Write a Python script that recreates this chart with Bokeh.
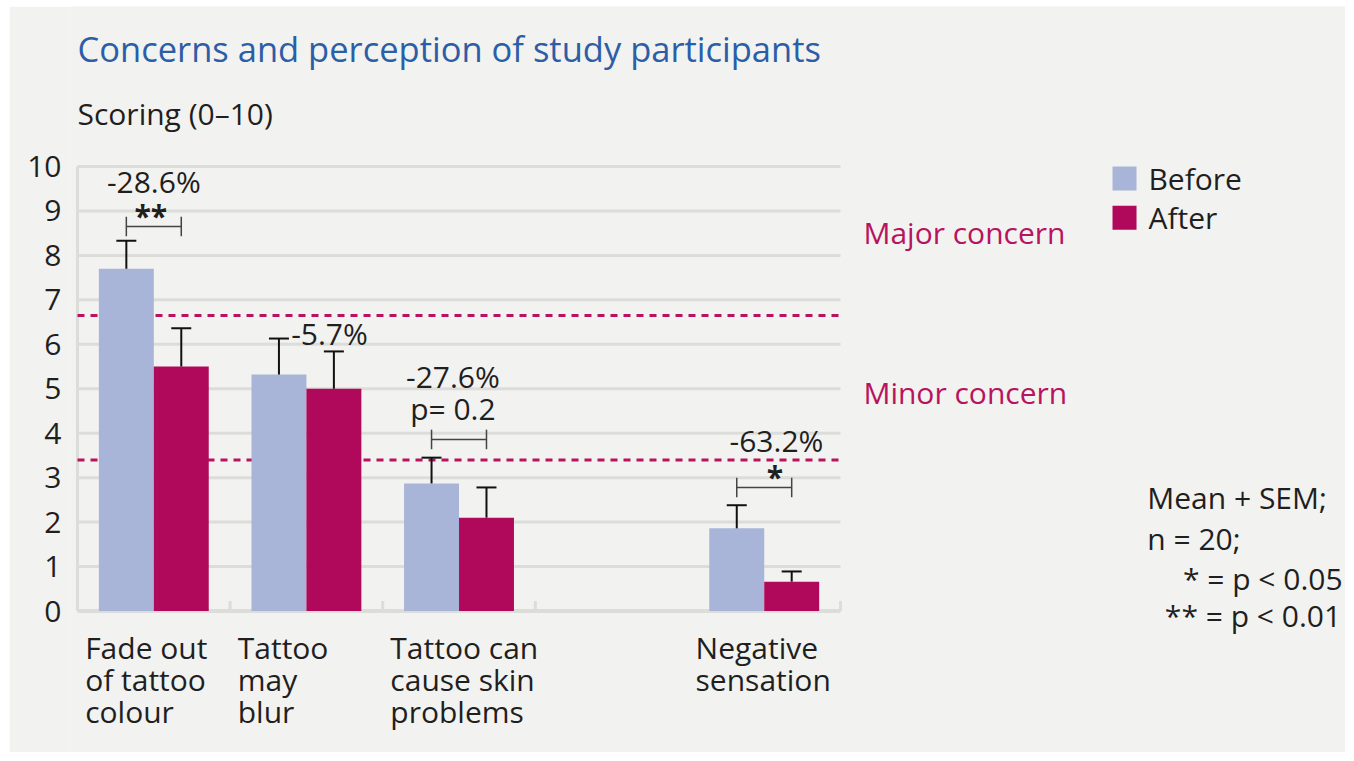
from bokeh.plotting import figure
from bokeh.models import Range1d, FixedTicker, Label
from bokeh.embed import file_html
from bokeh.resources import INLINE

# ---------------- data ----------------
categories = ["Fade out\nof tattoo\ncolour", "Tattoo\nmay\nblur",
              "Tattoo can\ncause skin\nproblems", "Negative\nsensation"]
cat_slot = [0, 1, 2, 4]          # slot 3 is left empty in the original
before_mean = [7.70, 5.32, 2.87, 1.86]
before_sem = [0.63, 0.81, 0.58, 0.52]
after_mean = [5.50, 5.00, 2.10, 0.66]
after_sem = [0.86, 0.84, 0.68, 0.23]
change_labels = ["-28.6%", "-5.7%", "-27.6%", "-63.2%"]
sig_labels = ["**", "", "p= 0.2", "*"]
series_names = ["Before", "After"]
major_concern = 6.65
minor_concern = 3.4
y_ticks = list(range(0, 11))
slot_edges = [0.5, 1.5, 2.5, 4.5]

# ---------------- style ----------------
FONT = "Open Sans"
BG = "#f2f2f0"
GRID = "#dcdcd8"
C_BEFORE = "#a9b5d8"
C_AFTER = "#b0085a"
C_CONCERN = "#b8135f"
C_TITLE = "#2b5ea7"
TXT = "#1f1f1f"
FS = "30px"
BW = 0.36
X0, X1 = -0.5, 4.5   # plotting area of the bar chart

# frame covers the whole panel so that annotations outside the bar area are not clipped
p = figure(width=1336, height=746, x_range=Range1d(-0.5459, 7.809), y_range=Range1d(-3.183, 13.60),
           output_backend="svg", toolbar_location=None, title=None, x_axis_location=None,
           min_border_left=61, min_border_right=0, min_border_top=0, min_border_bottom=0,
           background_fill_color=BG, border_fill_color=BG, outline_line_color=None)
p.margin = (6, 9, 9, 9)
p.grid.visible = False

ya = p.yaxis[0]
ya.bounds = (0, 10)
ya.ticker = FixedTicker(ticks=y_ticks)
ya.axis_line_color = None
ya.major_tick_line_color = None
ya.major_tick_out = 0
ya.major_tick_in = 0
ya.minor_tick_line_color = None
ya.major_label_text_font = FONT
ya.major_label_text_font_size = FS
ya.major_label_text_color = TXT
ya.major_label_standoff = 9

# y axis line, horizontal grid lines and baseline
gy = y_ticks[1:]
p.segment(x0=[X0], y0=[0], x1=[X0], y1=[10], line_color=GRID, line_width=3)
p.segment(x0=[X0] * len(gy), y0=gy, x1=[X1] * len(gy), y1=gy, line_color=GRID, line_width=3)
p.segment(x0=[X0], y0=[0], x1=[X1], y1=[0], line_color=GRID, line_width=4)
# category separator ticks (pointing up from the baseline)
p.segment(x0=slot_edges, y0=[0] * len(slot_edges), x1=slot_edges, y1=[0.225] * len(slot_edges),
          line_color=GRID, line_width=3)

# concern thresholds
for loc in (major_concern, minor_concern):
    p.segment(x0=[X0], y0=[loc], x1=[X1], y1=[loc], line_color=C_CONCERN,
              line_dash="7 6", line_width=3)

xb = [c - BW / 2 for c in cat_slot]
xa_ = [c + BW / 2 for c in cat_slot]

p.vbar(x=xb, top=before_mean, width=BW, bottom=0, fill_color=C_BEFORE, line_color=None)
p.vbar(x=xa_, top=after_mean, width=BW, bottom=0, fill_color=C_AFTER, line_color=None)

# error bars (mean + SEM)
for xs, m, s in ((xb, before_mean, before_sem), (xa_, after_mean, after_sem)):
    up = [a + b for a, b in zip(m, s)]
    p.segment(x0=xs, y0=m, x1=xs, y1=up, line_color="#111111", line_width=2)
    p.dash(x=xs, y=up, size=20, line_color="#111111", line_width=2)


def label(x, y, text, size=FS, color=TXT, align="left", baseline="middle", style="normal", lh=1.2):
    p.add_layout(Label(x=x, y=y, text=text, text_font=FONT, text_font_size=size,
                       text_color=color, text_align=align, text_baseline=baseline,
                       text_font_style=style, text_line_height=lh))


# significance brackets
bracket_y = {0: 8.65, 2: 3.86, 3: 2.78}
for i, by in bracket_y.items():
    p.segment(x0=[xb[i]], y0=[by], x1=[xa_[i]], y1=[by], line_color="#444444", line_width=1.5)
    p.segment(x0=[xb[i], xa_[i]], y0=[by - 0.22, by - 0.22], x1=[xb[i], xa_[i]],
              y1=[by + 0.22, by + 0.22], line_color="#444444", line_width=1.5)

# change annotations
label(cat_slot[0], 9.66, change_labels[0], align="center")
label(cat_slot[0] - 0.02, 8.9, sig_labels[0], align="center", style="bold")
label(cat_slot[1] - 0.10, 6.24, change_labels[1], align="left")
label(cat_slot[2] - 0.04, 5.28, change_labels[2], align="center")
label(cat_slot[2] - 0.04, 4.56, sig_labels[2], align="center")
label(cat_slot[3] + 0.08, 3.84, change_labels[3], align="center")
label(cat_slot[3] + 0.07, 3.02, sig_labels[3], align="center", style="bold")

# category labels
for c, t in zip(cat_slot, categories):
    label(c - 0.45, -0.355, t, align="left", baseline="top", lh=0.78)

# titles
label(-0.5, 12.66, "Concerns and perception of study participants", size="34.5px",
      color=C_TITLE)
label(-0.5, 11.19, "Scoring (0\u201310)")

# concern labels
label(4.65, 8.51, "Major concern", color=C_CONCERN)
label(4.65, 4.92, "Minor concern", color=C_CONCERN)

# footnote
label(6.51, 2.55, "Mean + SEM;")
label(6.51, 1.63, "n = 20;")
label(7.79, 0.73, "* = p < 0.05", align="right")
label(7.78, -0.10, "** = p < 0.01", align="right")

# legend
leg_y = [9.73, 8.85]
p.scatter(x=[6.361, 6.361], y=leg_y, marker="square", size=24,
          fill_color=[C_BEFORE, C_AFTER], line_color=None)
for name, yy in zip(series_names, leg_y):
    label(6.518, yy, name)

open("out.html", "w").write(file_html(p, INLINE))
